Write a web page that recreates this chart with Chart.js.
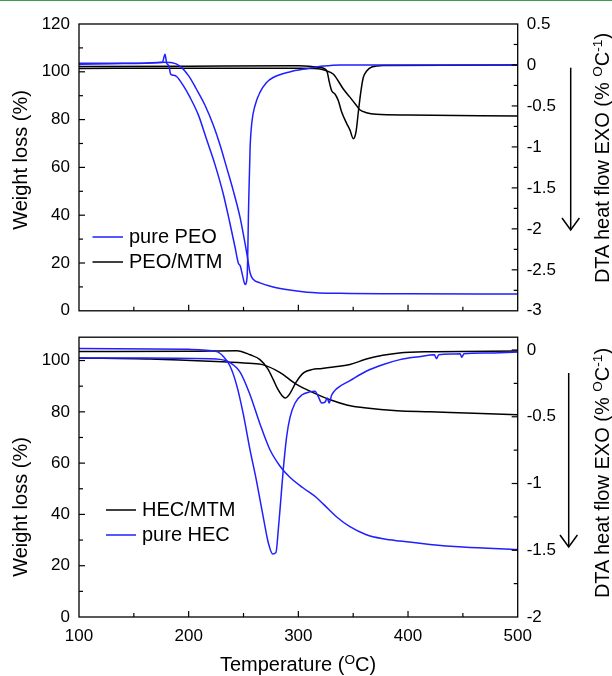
<!DOCTYPE html>
<html>
<head>
<meta charset="utf-8">
<script src="https://cdn.jsdelivr.net/npm/chart.js@4.4.1/dist/chart.umd.min.js"></script>
<style>
  body { margin: 0; background: #fff; }
  #wrap { position: relative; width: 612px; height: 676px; overflow: hidden; font-family: "Liberation Sans", Arial, sans-serif; color: #000; }
  #topLine { position: absolute; left: 0; top: 0; width: 612px; height: 1px; background: #3c9d4b; }
  canvas { position: absolute; left: 0; }
  .title { position: absolute; font-size: 20px; white-space: nowrap; line-height: 1; transform: translate(-50%, -50%); }
  .vert { transform: translate(-50%, -50%) rotate(-90deg); }
  .title sup { font-size: 0.68em; vertical-align: 0.55em; line-height: 0; }
  svg { position: absolute; left: 0; top: 0; }
</style>
</head>
<body>
<div id="wrap">
  <div id="topLine"></div>
  <canvas id="topChart" width="612" height="330" style="top:0"></canvas>
  <canvas id="bottomChart" width="612" height="358" style="top:318px"></canvas>

  <div class="title vert" style="left:19.5px; top:160px">Weight loss (%)</div>
  <div class="title vert" style="left:19.5px; top:507px">Weight loss (%)</div>
  <div class="title vert" style="left:602px; top:158px">DTA heat flow EXO (% <sup>O</sup>C<sup>-1</sup>)</div>
  <div class="title vert" style="left:602px; top:473px">DTA heat flow EXO (% <sup>O</sup>C<sup>-1</sup>)</div>
  <div class="title" style="left:298px; top:664px">Temperature (<sup>O</sup>C)</div>

  <svg width="612" height="676">
    <g stroke="#000" stroke-width="1.5" fill="none">
      <line x1="570.7" y1="67.7" x2="570.7" y2="230" />
      <polyline points="562,218 570.7,230 579.4,218" />
      <line x1="568.7" y1="373" x2="568.7" y2="547" />
      <polyline points="560,535 568.7,547 577.4,535" />
    </g>
  </svg>
</div>

<script>
// tick labels
const xTickLabels = [100, 200, 300, 400, 500];
const weightLabels = [0, 20, 40, 60, 80, 100, 120];
const dtaLabels = [0.5, 0, -0.5, -1, -1.5, -2, -2.5, -3];

// top panel: PEO
const peoTgaT = [100, 130, 160, 175, 185, 192, 200, 207, 215, 222.5, 228.6, 234.7, 240.7, 246.8, 251.4, 253.5, 256, 259, 265, 277, 292, 308, 338, 400, 500];
const peoTgaW = [103.2, 103.4, 103.6, 104, 103.8, 102.4, 98.3, 92.8, 85.9, 77.6, 69.4, 59.8, 50.2, 39.2, 28.2, 22.7, 15.8, 13.1, 11.7, 10.0, 8.7, 7.8, 7.3, 7.1, 7.0];

const peoDtaT = [100, 150, 176, 178.4, 180, 182, 183.5, 186, 189, 195, 201, 209, 216, 224, 231.6, 237.7, 242.2, 245.3, 247, 249.3, 251.4, 253.3, 254.7, 256, 257.7, 260.5, 265, 271, 277, 292, 308, 323, 338, 400, 500];
const peoDtaD = [0.02, 0.02, 0.03, 0.13, 0.02, -0.01, -0.11, -0.125, -0.14, -0.25, -0.39, -0.615, -0.895, -1.216, -1.577, -1.938, -2.218, -2.419, -2.45, -2.58, -2.68, -2.58, -1.7, -1.015, -0.69, -0.495, -0.334, -0.214, -0.153, -0.085, -0.045, -0.014, 0.0, 0.0, 0.0];

const peoMtmTgaT = [100, 200, 300, 318, 325, 332, 341, 347, 353, 356, 362, 371, 400, 500];
const peoMtmTgaW = [101.4, 101.5, 101.5, 101.3, 100.5, 99.0, 92.8, 89.4, 85.9, 84.1, 82.9, 82.2, 81.9, 81.5];

const peoMtmDtaT = [100, 200, 300, 320, 326, 328.3, 330.4, 333.4, 336.4, 339.5, 344.1, 347.1, 350.1, 352.6, 354.7, 356.9, 359.2, 362.3, 366.9, 377.5, 500];
const peoMtmDtaD = [-0.02, -0.015, -0.01, -0.03, -0.074, -0.213, -0.314, -0.354, -0.434, -0.574, -0.715, -0.795, -0.9, -0.815, -0.574, -0.334, -0.153, -0.074, -0.025, -0.005, 0.0];

// bottom panel: HEC
const hecTgaT = [100, 160, 225, 238, 247, 256, 265, 274, 283, 292, 304.5, 316.7, 322.8, 335, 347, 362, 377.5, 392.7, 420, 450, 500];
const hecTgaW = [101.0, 101.0, 100.6, 99.1, 95.4, 86.6, 75.3, 65.3, 59.0, 54.6, 50.3, 46.5, 44.0, 39.0, 35.2, 32.1, 30.5, 29.6, 28.3, 27.3, 26.3];

const hecDtaT = [100, 200, 225.5, 231.6, 237.7, 243.8, 249.8, 255.9, 262, 268, 272.6, 276.6, 279.6, 281.7, 283.9, 286.3, 289.3, 292.4, 297, 303.1, 310.6, 315.2, 318.2, 321.3, 324.3, 326.4, 328, 330.4, 335, 347.1, 362.3, 377.5, 392.7, 410, 424, 426, 428, 440, 447.5, 449, 451, 470, 500];
const hecDtaD = [0.012, 0.005, -0.012, -0.048, -0.12, -0.265, -0.48, -0.746, -0.987, -1.251, -1.444, -1.528, -1.516, -1.348, -1.131, -0.89, -0.65, -0.505, -0.397, -0.337, -0.313, -0.308, -0.35, -0.397, -0.39, -0.36, -0.397, -0.337, -0.289, -0.229, -0.157, -0.108, -0.072, -0.05, -0.035, -0.065, -0.035, -0.03, -0.028, -0.055, -0.028, -0.022, -0.015];

const hecMtmTgaT = [100, 165, 225, 255, 268, 283, 298, 313, 329, 345, 360, 390, 420, 460, 500];
const hecMtmTgaW = [101.0, 100.6, 99.6, 98.9, 98.3, 95.4, 90.8, 87.6, 84.7, 82.6, 81.6, 80.4, 80.0, 79.4, 78.9];

const hecMtmDtaT = [100, 200, 244, 256, 265, 272, 277, 281, 285, 288, 292, 298, 305, 313, 320, 332, 347, 362, 377, 392, 420, 500];
const hecMtmDtaD = [-0.012, -0.01, -0.005, -0.036, -0.072, -0.14, -0.22, -0.29, -0.34, -0.36, -0.33, -0.24, -0.17, -0.145, -0.14, -0.128, -0.108, -0.068, -0.04, -0.022, -0.013, -0.008];

const BLUE = '#1f1fff';
const BLACK = '#000000';

Chart.defaults.font.family = '"Liberation Sans", Arial, sans-serif';
Chart.defaults.font.size = 17;
Chart.defaults.color = '#000';

function hasLabel(list, v) {
    return list.some(l => Math.abs(l - v) < 1e-6);
}

function fmt(v) {
    return String(Math.round(v * 100) / 100);
}

function line(label, xs, ys, axis, color) {
    return {
        label: label,
        data: xs.map((t, i) => ({ x: t, y: ys[i] })),
        yAxisID: axis,
        borderColor: color,
        borderWidth: 1.5,
        pointRadius: 0,
        fill: false,
        cubicInterpolationMode: 'monotone'
    };
}

// inward tick marks + closed frame
const frameTicks = {
    id: 'frameTicks',
    afterDatasetsDraw(chart) {
        const ctx = chart.ctx;
        const a = chart.chartArea;
        ctx.save();
        ctx.strokeStyle = '#000';
        ctx.lineWidth = 1.3;
        ctx.strokeRect(a.left, a.top, a.right - a.left, a.bottom - a.top);
        ctx.lineWidth = 1.2;
        Object.values(chart.scales).forEach(s => {
            s.ticks.forEach(t => {
                const p = s.getPixelForValue(t.value);
                const len = t.label ? 6 : 4;
                ctx.beginPath();
                if (s.position === 'bottom') {
                    if (p <= a.left + 1 || p >= a.right - 1) return;
                    ctx.moveTo(p, a.bottom);
                    ctx.lineTo(p, a.bottom - len);
                } else {
                    if (p <= a.top + 1 || p >= a.bottom - 1) return;
                    const x0 = s.position === 'left' ? a.left : a.right;
                    const dir = s.position === 'left' ? 1 : -1;
                    ctx.moveTo(x0, p);
                    ctx.lineTo(x0 + dir * len, p);
                }
                ctx.stroke();
            });
        });
        ctx.restore();
    }
};

// legend drawn inside the plot area
const insideLegend = {
    id: 'insideLegend',
    afterDraw(chart, args, opts) {
        const ctx = chart.ctx;
        ctx.save();
        ctx.font = '20px "Liberation Sans", Arial, sans-serif';
        ctx.textBaseline = 'middle';
        opts.items.forEach((it, i) => {
            const y = opts.y + i * opts.gap;
            ctx.strokeStyle = it.color;
            ctx.lineWidth = 1.5;
            ctx.beginPath();
            ctx.moveTo(opts.x, y);
            ctx.lineTo(opts.x + opts.len, y);
            ctx.stroke();
            ctx.fillStyle = '#000';
            ctx.fillText(it.text, opts.x + opts.len + 6, y);
        });
        ctx.restore();
    }
};

function xScale(showLabels, height) {
    return {
        type: 'linear',
        min: 100,
        max: 500,
        grid: { display: false, drawTicks: false },
        border: { display: false },
        ticks: {
            stepSize: 50,
            padding: 9,
            display: showLabels,
            autoSkip: false,
            maxRotation: 0,
            includeBounds: false,
            callback: v => hasLabel(xTickLabels, v) ? String(v) : ''
        },
        afterFit: s => { s.height = height; }
    };
}

function yScale(pos, min, max, step, labels, width) {
    return {
        type: 'linear',
        position: pos,
        min: min,
        max: max,
        grid: { display: false, drawTicks: false },
        border: { display: false },
        ticks: {
            stepSize: step,
            padding: 9,
            autoSkip: false,
            includeBounds: false,
            callback: v => hasLabel(labels, v) ? fmt(v) : ''
        },
        afterFit: s => { s.width = width; }
    };
}

const baseOptions = {
    responsive: false,
    animation: false,
    events: []
};

new Chart(document.getElementById('topChart'), {
    type: 'line',
    data: {
        datasets: [
            line('pure PEO DTA', peoDtaT, peoDtaD, 'yD', BLUE),
            line('pure PEO TGA', peoTgaT, peoTgaW, 'yW', BLUE),
            line('PEO/MTM DTA', peoMtmDtaT, peoMtmDtaD, 'yD', BLACK),
            line('PEO/MTM TGA', peoMtmTgaT, peoMtmTgaW, 'yW', BLACK)
        ]
    },
    options: Object.assign({}, baseOptions, {
        layout: { padding: { top: 24, left: 0, right: 0, bottom: 0 } },
        scales: {
            x: xScale(false, 15),
            yW: yScale('left', 0, 120, 10, weightLabels, 79),
            yD: yScale('right', -3, 0.5, 0.25, dtaLabels, 94.3)
        },
        plugins: {
            legend: { display: false },
            tooltip: { enabled: false },
            insideLegend: {
                x: 92.5, y: 237, gap: 25, len: 30.5,
                items: [{ text: 'pure PEO', color: BLUE }, { text: 'PEO/MTM', color: BLACK }]
            }
        }
    }),
    plugins: [frameTicks, insideLegend]
});

new Chart(document.getElementById('bottomChart'), {
    type: 'line',
    data: {
        datasets: [
            line('pure HEC DTA', hecDtaT, hecDtaD, 'yD', BLUE),
            line('pure HEC TGA', hecTgaT, hecTgaW, 'yW', BLUE),
            line('HEC/MTM DTA', hecMtmDtaT, hecMtmDtaD, 'yD', BLACK),
            line('HEC/MTM TGA', hecMtmTgaT, hecMtmTgaW, 'yW', BLACK)
        ]
    },
    options: Object.assign({}, baseOptions, {
        layout: { padding: { top: 8.7, left: 0, right: 0, bottom: 0 } },
        scales: {
            x: xScale(true, 59),
            yW: yScale('left', 0, 109.1, 10, weightLabels, 79),
            yD: yScale('right', -2, 0.096, 0.25, dtaLabels, 94.3)
        },
        plugins: {
            legend: { display: false },
            tooltip: { enabled: false },
            insideLegend: {
                x: 106, y: 192, gap: 25, len: 30,
                items: [{ text: 'HEC/MTM', color: BLACK }, { text: 'pure HEC', color: BLUE }]
            }
        }
    }),
    plugins: [frameTicks, insideLegend]
});
</script>
</body>
</html>
